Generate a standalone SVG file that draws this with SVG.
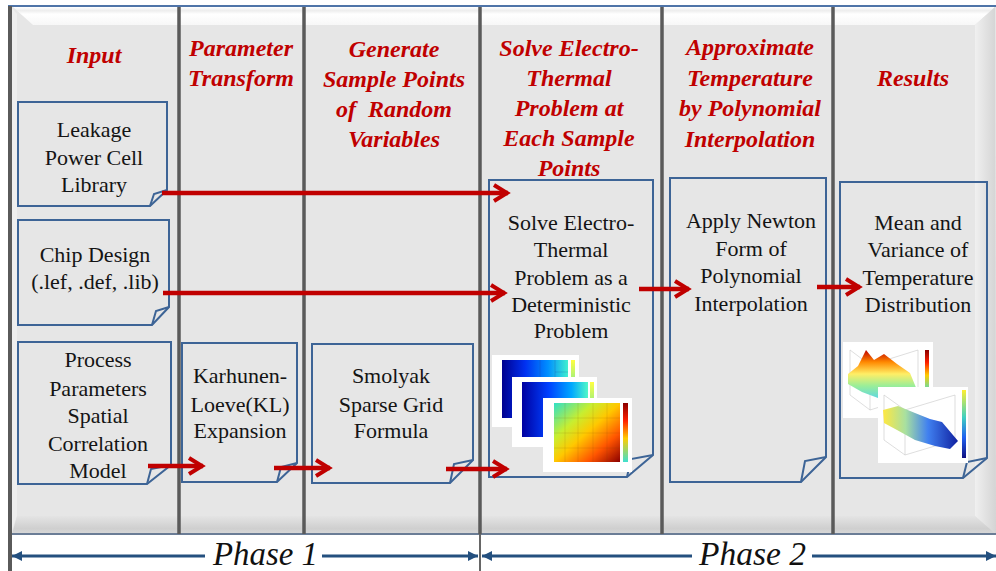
<svg xmlns="http://www.w3.org/2000/svg" width="996" height="571" viewBox="0 0 996 571">
<defs>
<style>
.hdr{font-family:"Liberation Serif","Times New Roman",serif;font-weight:bold;font-style:italic;font-size:24px;fill:#c00000;text-anchor:middle;white-space:pre}
.txt{font-family:"Liberation Serif","Times New Roman",serif;font-size:22px;fill:#141414;text-anchor:middle}
.box{fill:none;stroke:#3d6496;stroke-width:2;stroke-linejoin:miter}
.div{stroke:#5a5a5a;stroke-width:3.5}
.red{stroke:#c00000;stroke-width:4.5;fill:none;marker-end:url(#redHead)}
.blue{stroke:#24507f;stroke-width:2.8;fill:none;marker-end:url(#blueHead)}
.phase{font-family:"Liberation Serif","Times New Roman",serif;font-style:italic;font-size:34px;fill:#111}
.card{fill:#ffffff}
.grid{stroke:#c8c8c8;stroke-width:0.6;fill:none}
</style>
<marker id="redHead" markerUnits="userSpaceOnUse" viewBox="0 0 20 20" markerWidth="20" markerHeight="20" refX="17" refY="10" orient="auto">
<path d="M3,2 L16,10 L3,18" fill="none" stroke="#c00000" stroke-width="4"/>
</marker>
<marker id="blueHead" markerUnits="userSpaceOnUse" viewBox="0 0 10 10" markerWidth="10" markerHeight="10" refX="10" refY="5" orient="auto">
<path d="M0,0 L10,5 L0,10 z" fill="#24507f"/>
</marker>
<linearGradient id="topBev" x1="0" y1="0" x2="0" y2="1">
<stop offset="0" stop-color="#ffffff"/><stop offset="0.2" stop-color="#eeeeee"/><stop offset="0.4" stop-color="#ffffff"/><stop offset="1" stop-color="#f7f7f7"/>
</linearGradient>
<linearGradient id="rightBev" x1="0" y1="0" x2="1" y2="0">
<stop offset="0" stop-color="#f0f0f0"/><stop offset="1" stop-color="#d4d4d4"/>
</linearGradient>
<linearGradient id="botBev" x1="0" y1="0" x2="0" y2="1">
<stop offset="0" stop-color="#e4e4e4"/><stop offset="0.7" stop-color="#cfcfcf"/><stop offset="1" stop-color="#d8d8d8"/>
</linearGradient>
<linearGradient id="blueMap" x1="0" y1="0" x2="1" y2="0">
<stop offset="0" stop-color="#00008f"/><stop offset="0.35" stop-color="#0030f0"/><stop offset="0.7" stop-color="#0090ff"/><stop offset="1" stop-color="#40f0d0"/>
</linearGradient>
<linearGradient id="blueMap2" x1="0" y1="0" x2="1" y2="0">
<stop offset="0" stop-color="#0000a0"/><stop offset="0.4" stop-color="#0040ff"/><stop offset="0.75" stop-color="#00a8ff"/><stop offset="1" stop-color="#50f8c8"/>
</linearGradient>
<linearGradient id="hotMap" x1="0" y1="0" x2="1" y2="1">
<stop offset="0" stop-color="#30e0c8"/><stop offset="0.3" stop-color="#c8ee30"/><stop offset="0.5" stop-color="#ffc800"/><stop offset="0.75" stop-color="#ff5500"/><stop offset="1" stop-color="#8b0000"/>
</linearGradient>
<linearGradient id="cbYel" x1="0" y1="0" x2="0" y2="1">
<stop offset="0" stop-color="#ffff40"/><stop offset="1" stop-color="#40e0c0"/>
</linearGradient>
<linearGradient id="cbHot" x1="0" y1="0" x2="0" y2="1">
<stop offset="0" stop-color="#8b0000"/><stop offset="0.3" stop-color="#ff2000"/><stop offset="0.6" stop-color="#ffcc00"/><stop offset="1" stop-color="#40e0d0"/>
</linearGradient>
<linearGradient id="surfHot" x1="0" y1="0" x2="0" y2="1">
<stop offset="0" stop-color="#c00000"/><stop offset="0.25" stop-color="#ff8800"/><stop offset="0.5" stop-color="#ffee66"/><stop offset="0.75" stop-color="#99ee99"/><stop offset="1" stop-color="#60d8e0"/>
</linearGradient>
<linearGradient id="surfCold" x1="0" y1="0" x2="1" y2="0">
<stop offset="0" stop-color="#ffe840"/><stop offset="0.3" stop-color="#a8e0a0"/><stop offset="0.6" stop-color="#4080f0"/><stop offset="1" stop-color="#1020a0"/>
</linearGradient>
<linearGradient id="cbCold" x1="0" y1="0" x2="0" y2="1">
<stop offset="0" stop-color="#ffee30"/><stop offset="0.4" stop-color="#40d0c0"/><stop offset="0.7" stop-color="#2060f0"/><stop offset="1" stop-color="#101080"/>
</linearGradient>
</defs>

<!-- background and bevelled panel -->
<rect x="0" y="0" width="996" height="571" fill="#ffffff"/>
<rect x="11" y="7" width="985" height="527" fill="#e6e6e6"/>
<polygon points="13,7 995,7 975,25 33,25" fill="url(#topBev)"/>
<polygon points="12,8 17,14 17,516 12,530" fill="#eeeeee"/>
<polygon points="995,7 996,534 975,516 975,25" fill="url(#rightBev)"/>
<polygon points="12,534 996,534 975,516 17,516" fill="url(#botBev)"/>

<!-- frame lines and column dividers -->
<line x1="8" y1="6" x2="996" y2="6" stroke="#4f74a8" stroke-width="2"/>
<line x1="8" y1="534" x2="996" y2="534" stroke="#6b7d96" stroke-width="2"/>
<line x1="10" y1="6" x2="10" y2="571" stroke="#5a5a5a" stroke-width="4"/>
<line class="div" x1="179" y1="7" x2="179" y2="534"/>
<line class="div" x1="304" y1="7" x2="304" y2="534"/>
<line class="div" x1="480" y1="7" x2="480" y2="534"/>
<line class="div" x1="662" y1="7" x2="662" y2="534"/>
<line class="div" x1="833" y1="7" x2="833" y2="534"/>
<line x1="480" y1="534" x2="480" y2="571" stroke="#666666" stroke-width="2"/>

<!-- column headers -->
<g id="headers">
<text class="hdr" x="94" y="63">Input</text>
<text class="hdr" x="241" y="56">Parameter</text>
<text class="hdr" x="241" y="86">Transform</text>
<text class="hdr" x="394" y="57">Generate</text>
<text class="hdr" x="394" y="87">Sample Points</text>
<text class="hdr" x="394" y="117">of  Random</text>
<text class="hdr" x="394" y="147">Variables</text>
<text class="hdr" x="569" y="56">Solve Electro-</text>
<text class="hdr" x="569" y="86">Thermal</text>
<text class="hdr" x="569" y="116">Problem at</text>
<text class="hdr" x="569" y="146">Each Sample</text>
<text class="hdr" x="569" y="176">Points</text>
<text class="hdr" x="750" y="55">Approximate</text>
<text class="hdr" x="750" y="86">Temperature</text>
<text class="hdr" x="750" y="116">by Polynomial</text>
<text class="hdr" x="750" y="147">Interpolation</text>
<text class="hdr" x="913" y="86">Results</text>
</g>

<!-- nodes -->
<g id="leakage">
<path class="box" d="M18,102 H167 V190 L150,206 H18 Z"/>
<path class="box" d="M150,206 L154,194 L167,190"/>
<text class="txt" x="94" y="137">Leakage</text>
<text class="txt" x="94" y="165">Power Cell</text>
<text class="txt" x="94" y="192">Library</text>
</g>
<g id="chip">
<path class="box" d="M18,220 H169 V307 L152,325 H18 Z"/>
<path class="box" d="M152,325 L156,311 L169,307"/>
<text class="txt" x="95" y="262">Chip Design</text>
<text class="txt" x="95" y="289">(.lef, .def, .lib)</text>
</g>
<g id="process">
<path class="box" d="M18,342 H171 V465 L147,484 H18 Z"/>
<path class="box" d="M147,484 L151,469 L171,465"/>
<text class="txt" x="98" y="367">Process</text>
<text class="txt" x="98" y="396">Parameters</text>
<text class="txt" x="98" y="423">Spatial</text>
<text class="txt" x="98" y="451">Correlation</text>
<text class="txt" x="98" y="478">Model</text>
</g>
<g id="kl">
<path class="box" d="M182,343 H297 V463 L277,482 H182 Z"/>
<path class="box" d="M277,482 L281,467 L297,463"/>
<text class="txt" x="240" y="383">Karhunen-</text>
<text class="txt" x="240" y="412">Loeve(KL)</text>
<text class="txt" x="240" y="438">Expansion</text>
</g>
<g id="smolyak">
<path class="box" d="M312,344 H473 V460 L450,483 H312 Z"/>
<path class="box" d="M450,483 L454,464 L473,460"/>
<text class="txt" x="391" y="383">Smolyak</text>
<text class="txt" x="391" y="412">Sparse Grid</text>
<text class="txt" x="391" y="438">Formula</text>
</g>
<g id="solve">
<path class="box" d="M489,180 H653 V455 L627,477 H489 Z"/>
<path class="box" d="M627,477 L631,459 L653,455"/>
<text class="txt" x="571" y="230">Solve Electro-</text>
<text class="txt" x="571" y="257">Thermal</text>
<text class="txt" x="571" y="285">Problem as a</text>
<text class="txt" x="571" y="312">Deterministic</text>
<text class="txt" x="571" y="338">Problem</text>
<!-- heatmap thumbnails -->
<rect class="card" x="492" y="355" width="87" height="72"/>
<rect x="502" y="360" width="66" height="58" fill="url(#blueMap)"/>
<path d="M540,360 V418 M555,360 V418 M540,385 H568 M555,372 H568" stroke="#203080" stroke-width="0.5" stroke-opacity="0.4" fill="none"/>
<rect x="571" y="360" width="4" height="40" fill="url(#cbYel)"/>
<rect class="card" x="512" y="377" width="85" height="70"/>
<rect x="522" y="382" width="66" height="55" fill="url(#blueMap2)"/>
<rect x="590" y="382" width="4" height="40" fill="url(#cbYel)"/>
<rect class="card" x="543" y="398" width="89" height="74"/>
<rect x="554" y="403" width="66" height="59" fill="url(#hotMap)"/>
<path d="M565,403 V462 M578,403 V462 M593,403 V462 M607,403 V462 M554,418 H620 M554,433 H620 M554,448 H620" stroke="#704000" stroke-width="0.5" stroke-opacity="0.25" fill="none"/>
<rect x="623" y="403" width="5" height="59" fill="url(#cbHot)"/>
</g>
<g id="newton">
<path class="box" d="M670,178 H826 V457 L801,482 H670 Z"/>
<path class="box" d="M801,482 L805,461 L826,457"/>
<text class="txt" x="751" y="228">Apply Newton</text>
<text class="txt" x="751" y="256">Form of</text>
<text class="txt" x="751" y="283">Polynomial</text>
<text class="txt" x="751" y="311">Interpolation</text>
</g>
<g id="results">
<path class="box" d="M840,182 H987 V458 L963,478 H840 Z"/>
<path class="box" d="M963,478 L967,462 L987,458"/>
<text class="txt" x="918" y="230">Mean and</text>
<text class="txt" x="918" y="257">Variance of</text>
<text class="txt" x="918" y="285">Temperature</text>
<text class="txt" x="918" y="312">Distribution</text>
<!-- 3D surface thumbnails -->
<rect class="card" x="843" y="342" width="90" height="76"/>
<path class="grid" d="M850,350 V395 L870,410 L918,395 V350 M870,410 V365 L850,350 M870,365 L918,350"/>
<polygon points="848,374 858,366 866,350 874,360 884,354 897,364 910,373 917,390 905,396 890,388 878,398 862,392 848,384" fill="url(#surfHot)"/>
<rect x="925" y="350" width="4" height="42" fill="url(#cbHot)"/>
<rect class="card" x="878" y="387" width="90" height="76"/>
<path class="grid" d="M884,395 V440 L905,455 L955,440 V395 M905,455 V410 L884,395 M905,410 L955,395"/>
<polygon points="883,410 898,406 915,413 930,419 942,422 958,441 950,449 935,446 915,440 897,430 884,423" fill="url(#surfCold)"/>
<rect x="962" y="390" width="4" height="68" fill="url(#cbCold)"/>
</g>

<!-- connectors -->
<g id="connectors">
<line class="red" x1="162" y1="193" x2="508" y2="193"/>
<line class="red" x1="163" y1="293" x2="505" y2="293"/>
<line class="red" x1="639" y1="289" x2="689" y2="289"/>
<line class="red" x1="817" y1="287" x2="860" y2="287"/>
<line class="red" x1="148" y1="466" x2="203" y2="466"/>
<line class="red" x1="274" y1="468" x2="330" y2="468"/>
<line class="red" x1="446" y1="469" x2="507" y2="469"/>
<line class="blue" x1="205" y1="556" x2="12" y2="556"/>
<line class="blue" x1="322" y1="556" x2="478" y2="556"/>
<line class="blue" x1="692" y1="556" x2="482" y2="556"/>
<line class="blue" x1="812" y1="556" x2="996" y2="556"/>
</g>

<g id="phases">
<text class="phase" x="213" y="565" textLength="105" lengthAdjust="spacingAndGlyphs">Phase 1</text>
<text class="phase" x="699" y="565" textLength="107" lengthAdjust="spacingAndGlyphs">Phase 2</text>
</g>
</svg>
